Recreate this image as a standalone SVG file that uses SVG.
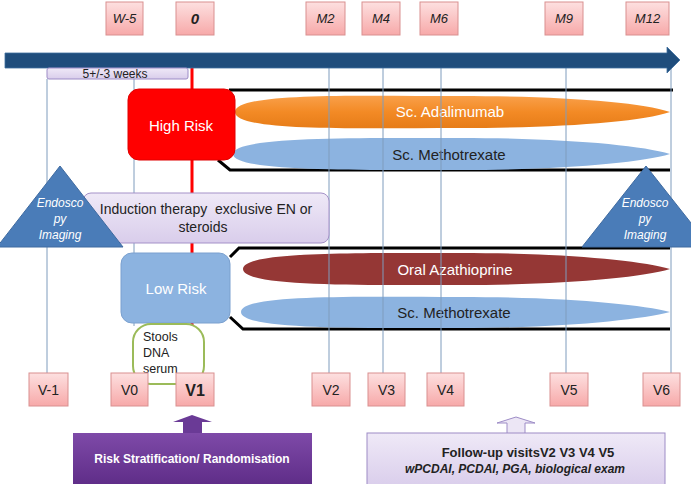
<svg xmlns="http://www.w3.org/2000/svg" width="691" height="484" viewBox="0 0 691 484">
<defs>
<linearGradient id="pink" x1="0" y1="0" x2="0" y2="1"><stop offset="0" stop-color="#fde0e0"/><stop offset="1" stop-color="#f7a9a9"/></linearGradient>
<linearGradient id="lav" x1="0" y1="0" x2="0" y2="1"><stop offset="0" stop-color="#efe9f7"/><stop offset="1" stop-color="#d9cdeb"/></linearGradient>
<linearGradient id="purp" x1="0" y1="0" x2="0" y2="1"><stop offset="0" stop-color="#7e4aa8"/><stop offset="1" stop-color="#5d2b86"/></linearGradient>
<linearGradient id="orng" x1="0" y1="0" x2="0" y2="1"><stop offset="0" stop-color="#f9a04a"/><stop offset="0.5" stop-color="#f38a25"/><stop offset="1" stop-color="#e67c18"/></linearGradient>
<style>
.pb{fill:url(#pink);stroke:#d99090;stroke-width:1}
.t{font-family:"Liberation Sans",Arial,sans-serif;fill:#222;text-anchor:middle}
.ti{font-style:italic;font-size:13px}
.tv{font-size:14px}
.vl{stroke:#7f9cbd;stroke-width:1;fill:none}
.bk{stroke:#000;stroke-width:3;fill:none}
.tri{fill:#4a7cb8;stroke:#3e6aa0;stroke-width:1}
</style>
</defs>
<rect width="691" height="484" fill="#fff"/>

<!-- black brackets -->
<g id="connectors">
<path class="bk" d="M229 90 H673"/>
<path class="bk" d="M218 160 L230 170 H670"/>
<path class="bk" d="M230 257 L239 248 H670"/>
<path class="bk" d="M230 317 L243 329 H670"/>
</g>

<!-- ellipses -->
<g id="adalimumab">
<path d="M235 112 C235 92 360 96 460 96 C560 96 640 102 670 112 C640 122 560 128 460 128 C360 128 235 132 235 112 Z" fill="url(#orng)"/>
<text class="t" x="450" y="117" font-size="15" style="fill:#fff">Sc. Adalimumab</text>
</g>
<g id="methotrexate-high">
<path d="M233 154 C233 136 360 138 460 138 C560 138 640 145 670 154 C640 163 560 170 460 170 C360 170 233 172 233 154 Z" fill="#8cb3e0"/>
<text class="t" x="449" y="160" font-size="15">Sc. Methotrexate</text>
</g>
<g id="azathioprine">
<path d="M243 269 C243 251 360 253 460 253 C560 253 640 260 670 269 C640 278 560 285 460 285 C360 285 243 287 243 269 Z" fill="#953735"/>
<text class="t" x="455" y="275" font-size="15" style="fill:#fff">Oral Azathioprine</text>
</g>
<g id="methotrexate-low">
<path d="M241 312 C241 294 360 297 460 297 C560 297 640 304 670 312 C640 320 560 328 460 328 C360 328 241 330 241 312 Z" fill="#8cb3e0"/>
<text class="t" x="454" y="318" font-size="15">Sc. Methotrexate</text>
</g>

<!-- timeline verticals -->
<g id="verticals">
<line class="vl" x1="47" y1="79" x2="47" y2="373"/>
<line class="vl" x1="134" y1="68" x2="134" y2="326"/>
<line class="vl" x1="329" y1="68" x2="329" y2="373"/>
<line class="vl" x1="383" y1="68" x2="383" y2="373"/>
<line class="vl" x1="441" y1="68" x2="441" y2="373"/>
<line class="vl" x1="566" y1="68" x2="566" y2="373"/>
<line class="vl" x1="671" y1="68" x2="671" y2="373"/>
<line x1="192" y1="68" x2="192" y2="373" stroke="#ff0000" stroke-width="3"/>
</g>

<!-- main arrow -->
<g id="timeline-arrow">
<path d="M5 53 H667 V47 L680 60 L667 73 V68 H5 Z" fill="#1f4d7c" stroke="#3f6f9f" stroke-width="0.8"/>
</g>

<g id="weeks">
<rect x="47" y="68" width="141" height="11" rx="2" fill="url(#lav)" stroke="#9d8cc6" stroke-width="1"/>
<text class="t" x="115" y="78" font-size="12">5+/-3 weeks</text>
</g>

<!-- top markers -->
<g id="W-5"><rect class="pb" x="106" y="2" width="37" height="33"/><text class="t ti" x="124.5" y="23">W-5</text></g>
<g id="T0"><rect class="pb" x="176" y="2" width="38" height="33"/><text class="t" x="195" y="24" font-size="15" font-weight="bold" font-style="italic">0</text></g>
<g id="M2"><rect class="pb" x="306" y="2" width="39" height="33"/><text class="t ti" x="325.5" y="23">M2</text></g>
<g id="M4"><rect class="pb" x="362" y="2" width="38" height="33"/><text class="t ti" x="381" y="23">M4</text></g>
<g id="M6"><rect class="pb" x="420" y="2" width="38" height="33"/><text class="t ti" x="439" y="23">M6</text></g>
<g id="M9"><rect class="pb" x="545" y="2" width="38" height="33"/><text class="t ti" x="564" y="23">M9</text></g>
<g id="M12"><rect class="pb" x="626" y="2" width="43" height="33"/><text class="t ti" x="647.5" y="23">M12</text></g>

<g id="high-risk">
<rect x="128" y="89" width="107" height="71" rx="11" fill="#ff0000" stroke="#e00000"/>
<text class="t" x="181" y="131" font-size="15" style="fill:#fff">High Risk</text>
</g>

<g id="induction">
<rect x="83" y="193" width="246" height="50" rx="8" fill="url(#lav)" stroke="#a491c8" stroke-width="1"/>
<text class="t" x="206" y="214" font-size="14" xml:space="preserve">Induction therapy  exclusive EN or</text>
<text class="t" x="203" y="232" font-size="14">steroids</text>
</g>

<g id="endoscopy-left">
<polygon class="tri" points="60,166 123,247 -3,247"/>
<text class="t" x="60" y="207" font-size="12" font-style="italic" style="fill:#fff">Endosco</text>
<text class="t" x="60" y="223" font-size="12" font-style="italic" style="fill:#fff">py</text>
<text class="t" x="60" y="239" font-size="12" font-style="italic" style="fill:#fff">Imaging</text>
</g>
<g id="endoscopy-right">
<polygon class="tri" points="646,166 710,247 582,247"/>
<text class="t" x="645" y="207" font-size="12" font-style="italic" style="fill:#fff">Endosco</text>
<text class="t" x="645" y="223" font-size="12" font-style="italic" style="fill:#fff">py</text>
<text class="t" x="645" y="239" font-size="12" font-style="italic" style="fill:#fff">Imaging</text>
</g>

<g id="low-risk">
<rect x="121" y="253" width="109" height="70" rx="11" fill="#8cb3e0" stroke="#7aa0cf"/>
<text class="t" x="176" y="294" font-size="15" style="fill:#fff">Low Risk</text>
</g>

<g id="stools">
<rect x="133" y="324" width="71" height="60" rx="18" fill="#fff" stroke="#9bbb59" stroke-width="2"/>
<text class="t" x="143" y="341" font-size="12.5" style="text-anchor:start">Stools</text>
<text class="t" x="143" y="357" font-size="12.5" style="text-anchor:start">DNA</text>
<text class="t" x="143" y="373" font-size="12.5" style="text-anchor:start">serum</text>
</g>

<!-- bottom visits -->
<g id="V-1"><rect class="pb" x="29" y="373" width="39" height="33"/><text class="t tv" x="48.5" y="395">V-1</text></g>
<g id="V0"><rect class="pb" x="111" y="373" width="37" height="33"/><text class="t tv" x="129.5" y="395">V0</text></g>
<g id="V1"><rect class="pb" x="176" y="373" width="38" height="33"/><text class="t" x="195" y="396" font-size="16" font-weight="bold">V1</text></g>
<g id="V2"><rect class="pb" x="312" y="373" width="38" height="33"/><text class="t tv" x="331" y="395">V2</text></g>
<g id="V3"><rect class="pb" x="368" y="373" width="37" height="33"/><text class="t tv" x="386.5" y="395">V3</text></g>
<g id="V4"><rect class="pb" x="427" y="373" width="37" height="33"/><text class="t tv" x="445.5" y="395">V4</text></g>
<g id="V5"><rect class="pb" x="550" y="373" width="38" height="33"/><text class="t tv" x="569" y="395">V5</text></g>
<g id="V6"><rect class="pb" x="643" y="373" width="37" height="33"/><text class="t tv" x="661.5" y="395">V6</text></g>

<g id="risk-stratification">
<path d="M183 434 V422 H173 L192 415 L212 422 H202 V434 Z" fill="#6a3a96"/>
<rect x="73" y="433" width="239" height="55" fill="url(#purp)"/>
<text class="t" x="192" y="463" font-size="12" font-weight="bold" style="fill:#fff">Risk Stratification/ Randomisation</text>
</g>

<g id="follow-up">
<path d="M507 434 V423 H497 L516 417 L535 423 H525 V434 Z" fill="#ece6f5" stroke="#9d8cc6" stroke-width="1"/>
<rect x="367" y="433" width="298" height="55" fill="url(#lav)" stroke="#9d8cc6" stroke-width="1"/>
<text class="t" x="528" y="457" font-size="13" font-weight="bold">Follow-up visitsV2 V3 V4 V5</text>
<text class="t" x="515" y="473" font-size="12" font-weight="bold" font-style="italic">wPCDAI, PCDAI, PGA, biological exam</text>
</g>
</svg>
